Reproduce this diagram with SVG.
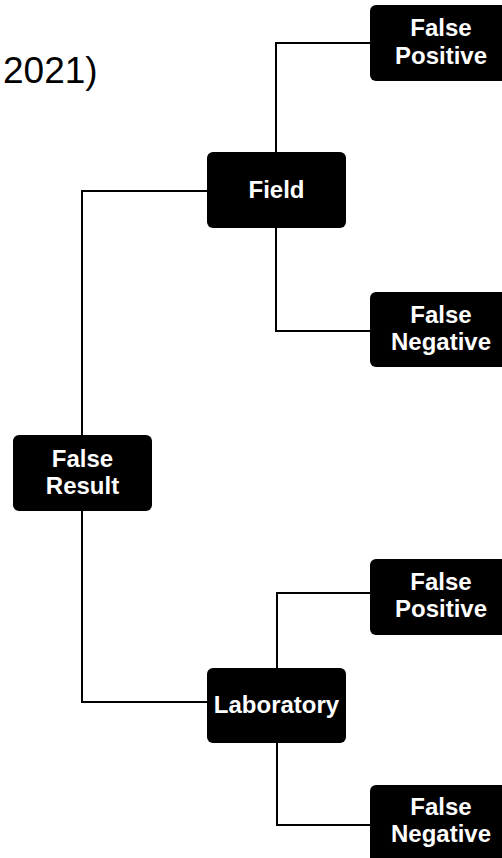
<svg xmlns="http://www.w3.org/2000/svg" width="502" height="858" viewBox="0 0 502 858">
  <style>
    .box { fill: #000; }
    .lbl { fill: #fff; font-family: "Liberation Sans", Arial, sans-serif; font-weight: bold; font-size: 24px; text-anchor: middle; }
    .conn { fill: none; stroke: #000; stroke-width: 2; }
    .cap { fill: #000; font-family: "Liberation Sans", Arial, sans-serif; font-size: 37px; }
  </style>
  <rect width="502" height="858" fill="#fff"/>
  <text class="cap" x="3" y="83">2021)</text>
  <g id="connectors">
    <path class="conn" d="M276,152 V43 H370"/>
    <path class="conn" d="M276,228 V331 H370"/>
    <path class="conn" d="M82,435 V191 H207"/>
    <path class="conn" d="M82,511 V702 H207"/>
    <path class="conn" d="M277,668 V593 H370"/>
    <path class="conn" d="M277,743 V825 H370"/>
  </g>
  <g id="false-result">
    <rect class="box" x="13" y="435" width="139" height="76" rx="6"/>
    <text class="lbl" x="82.5" y="467">False</text>
    <text class="lbl" x="82.5" y="494">Result</text>
  </g>
  <g id="field">
    <rect class="box" x="207" y="152" width="139" height="76" rx="6"/>
    <text class="lbl" x="276.5" y="198">Field</text>
  </g>
  <g id="laboratory">
    <rect class="box" x="207" y="668" width="139" height="75" rx="6"/>
    <text class="lbl" x="276.5" y="713">Laboratory</text>
  </g>
  <g id="field-false-positive">
    <rect class="box" x="370" y="5" width="142" height="76" rx="6"/>
    <text class="lbl" x="441" y="36">False</text>
    <text class="lbl" x="441" y="64">Positive</text>
  </g>
  <g id="field-false-negative">
    <rect class="box" x="370" y="292" width="142" height="75" rx="6"/>
    <text class="lbl" x="441" y="323">False</text>
    <text class="lbl" x="441" y="350">Negative</text>
  </g>
  <g id="lab-false-positive">
    <rect class="box" x="370" y="559" width="142" height="76" rx="6"/>
    <text class="lbl" x="441" y="590">False</text>
    <text class="lbl" x="441" y="617">Positive</text>
  </g>
  <g id="lab-false-negative">
    <rect class="box" x="370" y="785" width="142" height="80" rx="6"/>
    <text class="lbl" x="441" y="815">False</text>
    <text class="lbl" x="441" y="842">Negative</text>
  </g>
</svg>
